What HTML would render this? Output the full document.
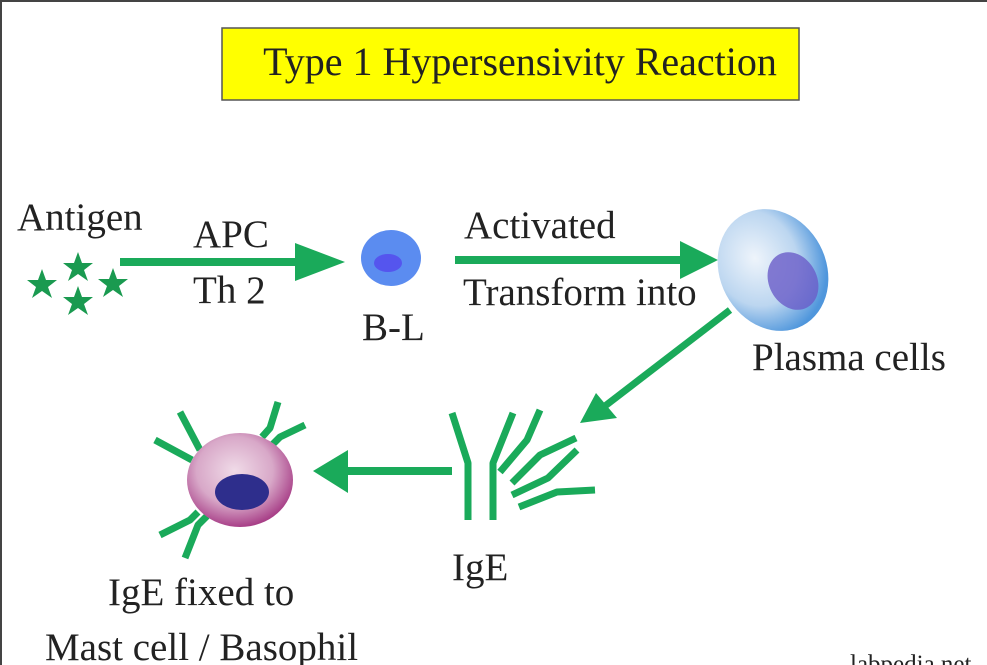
<!DOCTYPE html>
<html><head><meta charset="utf-8"><style>
html,body{margin:0;padding:0;background:#fff;}
svg{display:block;}
text{font-family:"Liberation Serif",serif;fill:#222;}
</style></head><body>
<svg width="987" height="665" viewBox="0 0 987 665" xmlns="http://www.w3.org/2000/svg">
<defs>
<radialGradient id="pl" cx="40%" cy="35%" r="65%"><stop offset="0" stop-color="#eef4fb"/><stop offset="0.6" stop-color="#bcd6f0"/><stop offset="1" stop-color="#4f96dc"/></radialGradient>
<radialGradient id="mc" cx="45%" cy="40%" r="60%"><stop offset="0" stop-color="#f0dbe8"/><stop offset="0.6" stop-color="#d8a8c8"/><stop offset="1" stop-color="#a84088"/></radialGradient>
</defs>
<rect x="0" y="0" width="987" height="665" fill="#fff"/>
<line x1="1" y1="0" x2="1" y2="665" stroke="#444" stroke-width="2"/>
<line x1="0" y1="1" x2="987" y2="1" stroke="#444" stroke-width="2"/>
<rect x="222" y="28" width="577" height="72" fill="#ffff00" stroke="#555" stroke-width="1.5"/>
<text x="520" y="75" font-size="40" text-anchor="middle">Type 1 Hypersensivity Reaction</text>

<text x="17" y="230" font-size="39">Antigen</text>
<g fill="#1a9a50">
<polygon points="0,-16 4,-5 15,-5 6,2 10,13 0,6 -10,13 -6,2 -15,-5 -4,-5" transform="translate(42,285)"/>
<polygon points="0,-16 4,-5 15,-5 6,2 10,13 0,6 -10,13 -6,2 -15,-5 -4,-5" transform="translate(78,268)"/>
<polygon points="0,-16 4,-5 15,-5 6,2 10,13 0,6 -10,13 -6,2 -15,-5 -4,-5" transform="translate(113,284)"/>
<polygon points="0,-16 4,-5 15,-5 6,2 10,13 0,6 -10,13 -6,2 -15,-5 -4,-5" transform="translate(78,302)"/>
</g>

<g fill="#1aaa5a" stroke="none">
<rect x="120" y="258" width="180" height="8"/>
<polygon points="295,243 345,262 295,281"/>
<rect x="455" y="256" width="230" height="8"/>
<polygon points="680,241 718,260 680,279"/>
<polygon points="348,450 313,471 348,493"/>
<rect x="345" y="467" width="107" height="8"/>
</g>
<line x1="730" y1="310" x2="605" y2="406" stroke="#1aaa5a" stroke-width="7"/>
<polygon points="580,423 596,393 617,418" fill="#1aaa5a"/>

<text x="193" y="247" font-size="39">APC</text>
<text x="193" y="303" font-size="39">Th 2</text>
<ellipse cx="391" cy="258" rx="30" ry="28" fill="#5b8cf0"/>
<ellipse cx="388" cy="263" rx="14" ry="9" fill="#5555ee"/>
<text x="362" y="340" font-size="39">B-L</text>
<text x="464" y="238" font-size="39">Activated</text>
<text x="463" y="305" font-size="39">Transform into</text>

<ellipse cx="773" cy="270" rx="53" ry="63" transform="rotate(-28 773 270)" fill="url(#pl)"/>
<ellipse cx="793" cy="281" rx="24" ry="30" transform="rotate(-28 793 281)" fill="#6a5cc8" opacity="0.8"/>
<text x="752" y="370" font-size="39">Plasma cells</text>

<g stroke="#1aaa5a" stroke-width="7" fill="none" stroke-linejoin="bevel">
<polyline points="452,413 468,463 468,520"/>
<polyline points="513,413 493,463 493,520"/>
<polyline points="500,472 527,440 540,410"/>
<polyline points="512,483 540,455 576,438"/>
<polyline points="512,495 548,478 577,450"/>
<polyline points="519,507 557,492 595,490"/>
<line x1="155" y1="440" x2="192" y2="460"/>
<line x1="180" y1="412" x2="200" y2="450"/>
<polyline points="278,402 270,428 262,437"/>
<polyline points="305,425 280,437 272,445"/>
<polyline points="160,535 190,520 198,512"/>
<polyline points="185,558 198,525 207,516"/>
</g>
<ellipse cx="240" cy="480" rx="53" ry="47" fill="url(#mc)"/>
<ellipse cx="242" cy="492" rx="27" ry="18" fill="#2e2e8c"/>

<text x="452" y="580" font-size="39">IgE</text>
<text x="108" y="605" font-size="39">IgE fixed to</text>
<text x="45" y="660" font-size="39">Mast cell / Basophil</text>
<text x="850" y="672" font-size="25">labpedia.net</text>
</svg>
</body></html>
